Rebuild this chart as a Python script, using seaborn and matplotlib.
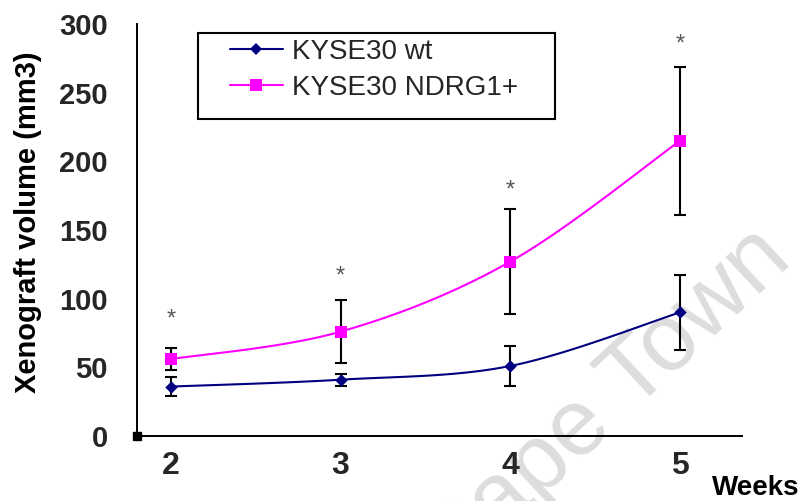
import numpy as np
import pandas as pd
import matplotlib
matplotlib.use('Agg')
import matplotlib.pyplot as plt
import seaborn as sns
from matplotlib.lines import Line2D
from matplotlib.patches import Rectangle

# ---- data ----
weeks = [2, 3, 4, 5]
wt_mean = [36, 41, 51, 90]
wt_err = [7, 4.5, 14.5, 27.5]
ndrg_mean = [56, 76, 127, 215]
ndrg_err = [8, 23, 38.5, 54]
star_y = [90, 121, 184, 290]          # centre height of the significance asterisks
series_names = ['KYSE30 wt', 'KYSE30 NDRG1+']
y_ticks = [0, 50, 100, 150, 200, 250, 300]
x_ticks = [2, 3, 4, 5]

navy = '#000080'
magenta = '#FF00FF'

sns.set_theme(style='white')
plt.rcParams['font.family'] = ['Liberation Sans', 'DejaVu Sans']


def smooth(xs, ys, n=40):
    """Catmull-Rom smoothing (like Excel's smoothed line) through the points."""
    P = np.column_stack([xs, ys]).astype(float)
    P = np.vstack([P[0], P, P[-1]])
    out = []
    t = np.linspace(0, 1, n)[:, None]
    for i in range(1, len(P) - 2):
        p0, p1, p2, p3 = P[i - 1], P[i], P[i + 1], P[i + 2]
        seg = 0.5 * (2 * p1 + (-p0 + p2) * t + (2 * p0 - 5 * p1 + 4 * p2 - p3) * t ** 2
                     + (-p0 + 3 * p1 - 3 * p2 + p3) * t ** 3)
        out.append(seg if i == 1 else seg[1:])
    return np.vstack(out)


curves = []
for name, ys in zip(series_names, [wt_mean, ndrg_mean]):
    c = smooth(weeks, ys)
    curves.append(pd.DataFrame({'x': c[:, 0], 'y': c[:, 1], 'series': name}))
curve_df = pd.concat(curves, ignore_index=True)

fig = plt.figure(figsize=(8.06, 5.01), dpi=100)
fig.patch.set_facecolor('white')
ax = fig.add_axes([137 / 806, 1 - 436 / 501, (742 - 137) / 806, (436 - 24) / 501])
ax.set_facecolor('none')

# error bars
ax.errorbar(weeks, wt_mean, yerr=wt_err, fmt='none', ecolor='black',
            elinewidth=1.5, capsize=4.5, capthick=1.5, zorder=2)
ax.errorbar(weeks, ndrg_mean, yerr=ndrg_err, fmt='none', ecolor='black',
            elinewidth=1.5, capsize=4.5, capthick=1.5, zorder=2)

# smoothed lines
sns.lineplot(data=curve_df, x='x', y='y', hue='series',
             palette={series_names[0]: navy, series_names[1]: magenta},
             sort=False, estimator=None, legend=False, linewidth=1.5, ax=ax, zorder=3)

# markers
sns.scatterplot(x=weeks, y=wt_mean, marker='D', s=40, color=navy, linewidth=0, ax=ax, zorder=4)
sns.scatterplot(x=weeks, y=ndrg_mean, marker='s', s=72, color=magenta, linewidth=0, ax=ax, zorder=4)

# asterisks
for w, s in zip(weeks, star_y):
    ax.annotate('*', xy=(w, s), xytext=(0, -9.5), textcoords='offset points',
                ha='center', va='baseline', fontsize=17, color='#555555')

ax.set_xlim(1.8, 5.365)
ax.set_ylim(0, 300)
ax.set_xticks(x_ticks)
ax.set_yticks(y_ticks)
ax.set_xticklabels([str(v) for v in x_ticks], fontsize=23, fontweight='bold')
ax.set_yticklabels([str(v) for v in y_ticks], fontsize=21, fontweight='bold')
ax.tick_params(axis='both', direction='in', length=6, width=1.2, color='black')
ax.tick_params(axis='y', pad=21)
ax.tick_params(axis='x', pad=11)
for side in ['top', 'right']:
    ax.spines[side].set_visible(False)
for side in ['left', 'bottom']:
    ax.spines[side].set_color('black')
    ax.spines[side].set_linewidth(1.4)
ax.set_xlabel('')
ax.set_ylabel('Xenograft volume (mm3)', fontsize=21, fontweight='bold', color='black')
ax.yaxis.set_label_coords(-0.157, 0.519)

# small black square at the origin
ax.plot([1.8], [0], marker='s', color='black', markersize=6, clip_on=False, zorder=5)

# legend
handles = [Line2D([], [], color=navy, lw=1.5, marker='D', markersize=6.3, markeredgewidth=0),
           Line2D([], [], color=magenta, lw=1.5, marker='s', markersize=8.5, markeredgewidth=0)]
ax.legend(handles, series_names, loc='upper left',
          bbox_to_anchor=(230 / 806, 1 - 39 / 501), bbox_transform=fig.transFigure,
          frameon=False, fontsize=20, handlelength=1.9, handletextpad=0.32,
          labelspacing=0.36, borderpad=0, borderaxespad=0)
fig.add_artist(Rectangle((198 / 806, 1 - 119 / 501), (555 - 198) / 806, (119 - 33) / 501,
                         transform=fig.transFigure, fill=False, edgecolor='black', lw=1.5))

# "Weeks" label at lower right
fig.text(712 / 806, 1 - 495 / 501, 'Weeks', fontsize=20, fontweight='bold',
         ha='left', va='baseline', color='black')

# faint watermark
fig.text(794 / 806, 1 - 262 / 501, 'Cape Town', rotation=43, rotation_mode='anchor',
         ha='right', va='baseline', fontsize=68, color='#dddddd', zorder=-1)

fig.savefig('out.png', dpi=100)
